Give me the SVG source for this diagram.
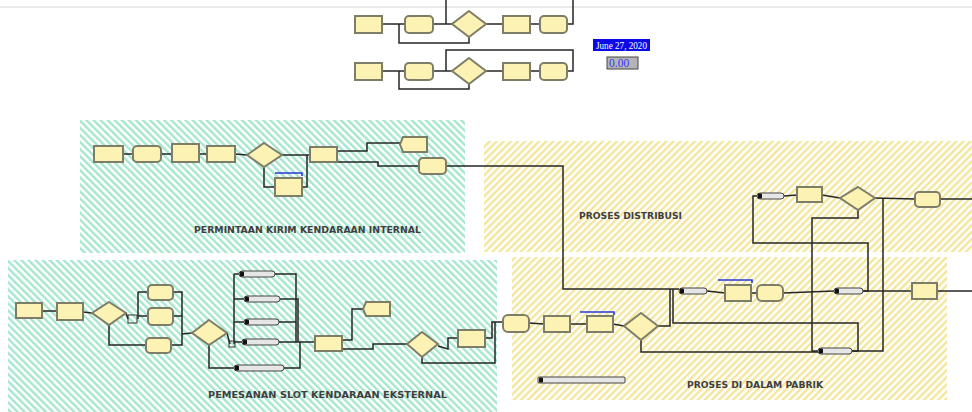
<svg xmlns="http://www.w3.org/2000/svg" width="972" height="412" viewBox="0 0 972 412">
<defs>
<pattern id="gh" width="5" height="5" patternUnits="userSpaceOnUse" patternTransform="rotate(-45)"><rect width="5" height="5" fill="#ffffff"/><rect width="2.4" height="5" fill="#a6e6cd"/></pattern>
<pattern id="yh" width="5" height="5" patternUnits="userSpaceOnUse" patternTransform="rotate(45)"><rect width="5" height="5" fill="#ffffff"/><rect width="2.4" height="5" fill="#f3e69c"/></pattern>
<style>
.m{fill:#fbf2b4;stroke:#7e7e68;stroke-width:2}
.d{fill:#fbf2b4;stroke:#7e7e68;stroke-width:2}
.b{fill:#e6e6e6;stroke:#444;stroke-width:1}
.bi{fill:#111}
.c{fill:none;stroke:#262626;stroke-width:1.5}
.bl{fill:none;stroke:#2a3ad8;stroke-width:1.6}
.lbl{font-family:"DejaVu Sans",sans-serif;font-weight:bold;font-size:9.5px;fill:#3f3f3f}
.j{fill:none;stroke:#333;stroke-width:1}
</style>
</defs>
<rect width="972" height="412" fill="#ffffff"/>
<line x1="0" y1="7" x2="972" y2="7" stroke="#d4d4d4" stroke-width="1"/>

<g id="regions">
<rect x="80" y="120" width="385" height="133" fill="url(#gh)"/>
<rect x="8" y="260" width="489" height="152" fill="url(#gh)"/>
<rect x="484" y="141" width="488" height="111" fill="url(#yh)"/>
<rect x="512" y="257" width="435" height="143" fill="url(#yh)"/>
<text class="lbl" x="194" y="233" textLength="227" lengthAdjust="spacingAndGlyphs">PERMINTAAN KIRIM KENDARAAN INTERNAL</text>
<text class="lbl" x="579" y="219" textLength="103" lengthAdjust="spacingAndGlyphs">PROSES DISTRIBUSI</text>
<text class="lbl" x="208" y="398" textLength="239" lengthAdjust="spacingAndGlyphs">PEMESANAN SLOT KENDARAAN EKSTERNAL</text>
<text class="lbl" x="687" y="388" textLength="136" lengthAdjust="spacingAndGlyphs">PROSES DI DALAM PABRIK</text>
</g>

<g id="connectors">
<polyline class="c" points="382,24 405,24"/>
<polyline class="c" points="399,24 399,43 469,43 469,37"/>
<polyline class="c" points="433,24 452,24"/>
<polyline class="c" points="446,24 446,0"/>
<polyline class="c" points="486,24 503,24"/>
<polyline class="c" points="530,24 540,24"/>
<polyline class="c" points="567,24 573,24 573,0"/>
<polyline class="c" points="382,71 405,71"/>
<polyline class="c" points="399,71 399,89 469,89 469,84"/>
<polyline class="c" points="433,71 452,71"/>
<polyline class="c" points="446,71 446,50 573,50 573,71 567,71"/>
<polyline class="c" points="486,71 503,71"/>
<polyline class="c" points="530,71 540,71"/>

<polyline class="c" points="123,154 133,154"/>
<polyline class="c" points="161,154 172,154"/>
<polyline class="c" points="199,154 207,154"/>
<polyline class="c" points="235,154 247,155"/>
<polyline class="c" points="282,155 310,155"/>
<polyline class="c" points="264,167 264,187 275,187"/>
<polyline class="c" points="302,187 307,187 307,155"/>
<polyline class="c" points="337,151 367,151 367,143 400,143"/>
<polyline class="c" points="337,162 378,162 378,166 419,166"/>
<polyline class="c" points="446,166 563,166 563,289 679,289"/>
<polyline class="c" points="658,326 670,326 670,289"/>
<polyline class="c" points="673,289 673,323 858,323 858,351 852,351"/>

<polyline class="c" points="42,311 57,311"/>
<polyline class="c" points="83,312 92,313"/>
<polyline class="c" points="126,313 128,319"/>
<polyline class="c" points="138,292 138,319"/>
<polyline class="c" points="138,292 148,292"/>
<polyline class="c" points="138,316 148,316"/>
<polyline class="c" points="109,325 109,345 146,345"/>
<polyline class="c" points="173,292 182,292 182,345 171,345"/>
<polyline class="c" points="173,316 182,316"/>
<polyline class="c" points="182,334 192,333"/>
<polyline class="c" points="227,333 230,344"/>
<polyline class="c" points="234,274 234,344"/>
<polyline class="c" points="234,274 239,274"/>
<polyline class="c" points="234,299 244,299"/>
<polyline class="c" points="234,322 244,322"/>
<polyline class="c" points="234,342 242,342"/>
<polyline class="c" points="209,345 209,368 234,368"/>
<polyline class="c" points="275,274 296,274 296,342"/>
<polyline class="c" points="280,299 298,299 298,342"/>
<polyline class="c" points="279,322 296,322"/>
<polyline class="c" points="279,342 315,342"/>
<polyline class="c" points="284,368 300,368 300,342"/>
<polyline class="c" points="342,340 352,340 352,309 363,309"/>
<polyline class="c" points="342,349 373,349 373,344 407,344"/>
<polyline class="c" points="438,346 448,349 448,338 458,338"/>
<polyline class="c" points="485,338 492,338 492,322 503,322"/>
<polyline class="c" points="422,357 422,363 495,363 495,322"/>

<polyline class="c" points="529,323 544,324"/>
<polyline class="c" points="570,324 587,324"/>
<polyline class="c" points="613,324 624,326"/>
<polyline class="c" points="641,340 641,352 818,352"/>
<polyline class="c" points="707,291 725,293"/>
<polyline class="c" points="751,293 757,293"/>
<polyline class="c" points="783,293 834,291"/>
<polyline class="c" points="858,210 858,218 812,218 812,351 818,351"/>
<polyline class="c" points="863,291 868,291 868,243 753,243 753,196 757,196"/>
<polyline class="c" points="852,351 883,351 883,198"/>
<polyline class="c" points="875,198 915,199"/>
<polyline class="c" points="863,291 912,291"/>
<polyline class="c" points="937,291 972,291"/>
<polyline class="c" points="940,199 972,199"/>
<polyline class="c" points="784,196 797,195"/>
<polyline class="c" points="822,195 840,198"/>
</g>

<g id="top-row1">
<rect class="m" x="355" y="16" width="27" height="17"/>
<rect class="m" x="405" y="16" width="28" height="17" rx="4"/>
<polygon class="d" points="469,11 486,24 469,37 452,24"/>
<rect class="m" x="503" y="16" width="27" height="17"/>
<rect class="m" x="540" y="16" width="27" height="17" rx="4"/>
</g>
<g id="top-row2">
<rect class="m" x="355" y="63" width="27" height="17"/>
<rect class="m" x="405" y="63" width="28" height="17" rx="4"/>
<polygon class="d" points="469,58 486,71 469,84 452,71"/>
<rect class="m" x="503" y="63" width="27" height="17"/>
<rect class="m" x="540" y="63" width="27" height="17" rx="4"/>
</g>
<g id="date">
<rect x="593" y="39" width="57" height="12" fill="#0a0ae6"/>
<text x="596" y="48.5" font-family="Liberation Serif, serif" font-size="10.5" fill="#ffffff" textLength="51" lengthAdjust="spacingAndGlyphs">June 27, 2020</text>
</g>
<g id="clock">
<rect x="607" y="57" width="31" height="12" fill="#b4b4b4" stroke="#444" stroke-width="1"/>
<text x="609" y="67" font-family="Liberation Serif, serif" font-size="11.5" fill="#3434ff">0.00</text>
</g>

<g id="internal">
<rect class="m" x="94" y="146" width="29" height="16"/>
<rect class="m" x="133" y="146" width="28" height="16" rx="4"/>
<rect class="m" x="172" y="144" width="27" height="18"/>
<rect class="m" x="207" y="146" width="28" height="16"/>
<polygon class="d" points="264,143 282,155 264,167 247,155"/>
<rect class="m" x="310" y="147" width="27" height="15"/>
<rect class="m" x="275" y="178" width="27" height="18"/>
<polyline class="bl" points="275,173 302,173 302,176"/>
<polygon class="m" points="403,137 427,137 427,152 403,152 400,144.5"/>
<rect class="m" x="419" y="158" width="27" height="16" rx="4"/>
</g>

<g id="external">
<rect class="m" x="16" y="303" width="26" height="15"/>
<rect class="m" x="57" y="303" width="26" height="17"/>
<polygon class="d" points="109,302 126,313 109,325 92,313"/>
<rect class="j" x="128" y="315" width="9" height="8"/>
<rect class="m" x="148" y="285" width="25" height="15" rx="4"/>
<rect class="m" x="148" y="308" width="25" height="17" rx="4"/>
<rect class="m" x="146" y="338" width="25" height="15" rx="4"/>
<polygon class="d" points="209,320 227,333 209,345 192,333"/>
<rect class="j" x="229" y="341" width="6" height="6"/>
<rect class="b" x="239" y="271" width="36" height="6" rx="3"/><rect class="bi" x="240" y="271.5" width="4" height="5" rx="1"/>
<rect class="b" x="244" y="296" width="36" height="6" rx="3"/><rect class="bi" x="245" y="296.5" width="4" height="5" rx="1"/>
<rect class="b" x="244" y="319" width="35" height="6" rx="3"/><rect class="bi" x="245" y="319.5" width="4" height="5" rx="1"/>
<rect class="b" x="242" y="339" width="37" height="6" rx="3"/><rect class="bi" x="243" y="339.5" width="4" height="5" rx="1"/>
<rect class="b" x="234" y="365" width="50" height="6" rx="3"/><rect class="bi" x="235" y="365.5" width="4" height="5" rx="1"/>
<rect class="m" x="315" y="336" width="27" height="15"/>
<polygon class="m" points="366,302 390,302 390,316 366,316 363,309"/>
<polygon class="d" points="422,332 438,344 422,357 407,344"/>
<rect class="m" x="458" y="330" width="27" height="17"/>
</g>

<g id="distribusi">
<rect class="b" x="757" y="193" width="27" height="6" rx="3"/><rect class="bi" x="758" y="193.5" width="4" height="5" rx="1"/>
<rect class="m" x="797" y="187" width="25" height="15"/>
<polygon class="d" points="858,187 875,198 858,210 840,198"/>
<rect class="m" x="915" y="192" width="25" height="15" rx="4"/>
</g>

<g id="pabrik">
<rect class="m" x="503" y="315" width="26" height="17" rx="5"/>
<rect class="m" x="544" y="316" width="26" height="16"/>
<rect class="m" x="587" y="316" width="26" height="16"/>
<polyline class="bl" points="580,312 614,312 614,315"/>
<polygon class="d" points="641,313 658,326 641,340 624,326"/>
<rect class="b" x="679" y="288" width="28" height="6" rx="3"/><rect class="bi" x="680" y="288.5" width="4" height="5" rx="1"/>
<rect class="m" x="725" y="285" width="26" height="16"/>
<polyline class="bl" points="718,280 752,280 752,283"/>
<rect class="m" x="757" y="285" width="26" height="16" rx="5"/>
<rect class="b" x="834" y="288" width="29" height="6" rx="3"/><rect class="bi" x="835" y="288.5" width="4" height="5" rx="1"/>
<rect class="b" x="818" y="348" width="34" height="6" rx="3"/><rect class="bi" x="819" y="348.5" width="4" height="5" rx="1"/>
<rect class="m" x="912" y="283" width="25" height="16"/>
<rect class="b" x="538" y="377" width="87" height="6" rx="1" fill="#ffffff"/><rect class="bi" x="539" y="377.5" width="4" height="5" rx="1"/>
</g>
</svg>
